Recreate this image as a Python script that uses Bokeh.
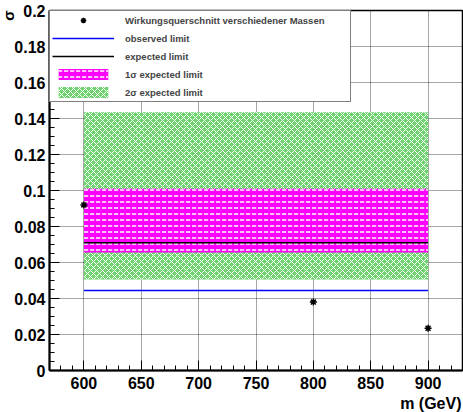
import numpy as np
from math import pi
from bokeh.plotting import figure
from bokeh.models import Legend, LegendItem, Label, FixedTicker
from bokeh.embed import file_html
from bokeh.resources import INLINE

# ---- data ----
masses = [600, 800, 900]
xsec = [0.092, 0.038, 0.0235]

limit_mass = [600, 900]
observed = [0.0445, 0.0445]
expected = [0.071, 0.071]
one_sigma_lo = [0.0656, 0.0656]
one_sigma_hi = [0.101, 0.101]
two_sigma_lo = [0.0505, 0.0505]
two_sigma_hi = [0.1435, 0.1435]

x_ticks = [600, 650, 700, 750, 800, 850, 900]
y_ticks = [0, 0.02, 0.04, 0.06, 0.08, 0.1, 0.12, 0.14, 0.16, 0.18, 0.2]
y_tick_labels = ["0", "0.02", "0.04", "0.06", "0.08", "0.1", "0.12", "0.14", "0.16", "0.18", "0.2"]

FONT = "Liberation Sans"

p = figure(width=463, height=412, x_range=(570, 930), y_range=(0, 0.2),
           output_backend="svg", toolbar_location=None,
           min_border_left=49, min_border_right=1, min_border_top=10, min_border_bottom=42)
p.background_fill_color = "white"
p.border_fill_color = "white"
p.outline_line_color = "black"
p.outline_line_width = 1.5

# bands
g2 = p.varea(x=limit_mass, y1=two_sigma_lo, y2=two_sigma_hi,
             fill_color="#6fd36f", hatch_pattern="diagonal_cross",
             hatch_color="white", hatch_scale=6, hatch_weight=1)
g1 = p.varea(x=limit_mass, y1=one_sigma_lo, y2=one_sigma_hi,
             fill_color="#ff00ff", hatch_pattern="horizontal_dash",
             hatch_color="white", hatch_scale=6, hatch_weight=1.5)
le = p.line(limit_mass, expected, line_color="black", line_width=1.5)
lo = p.line(limit_mass, observed, line_color="#0000ff", line_width=1.5)
pts = p.scatter(masses, xsec, marker="asterisk", size=7, line_width=1.5, color="black")

# axes
p.xaxis.ticker = FixedTicker(ticks=x_ticks, minor_ticks=list(np.arange(570, 931, 10)))
p.yaxis.ticker = FixedTicker(ticks=y_ticks, minor_ticks=list(np.round(np.arange(0, 0.2001, 0.005), 4)))
p.yaxis.major_label_overrides = {t: l for t, l in zip(y_ticks, y_tick_labels)}
for ax in (p.xaxis[0], p.yaxis[0]):
    ax.axis_line_color = "black"
    ax.axis_line_width = 2
    ax.major_tick_in = 10
    ax.major_tick_out = 0
    ax.minor_tick_in = 5
    ax.minor_tick_out = 0
    ax.major_tick_line_color = "black"
    ax.minor_tick_line_color = "black"
    ax.major_label_text_font = FONT
    ax.major_label_text_font_style = "bold"
    ax.major_label_text_font_size = "16px"
    ax.major_label_text_color = "black"
p.xaxis.major_label_standoff = 6
p.yaxis.major_label_standoff = 4

for g in (p.xgrid[0], p.ygrid[0]):
    g.grid_line_color = "black"
    g.grid_line_alpha = 0.7
    g.grid_line_dash = "1 1"
    g.grid_line_width = 1

# axis titles (placed in side panels so they are not clipped to the frame)
p.add_layout(Label(x=930, y=0, text="m (GeV)", text_align="right", text_baseline="top",
                   y_offset=-24, x_offset=-1, text_font=FONT, text_font_style="bold",
                   text_font_size="16px", text_color="black"), "below")
p.add_layout(Label(x=570, y=0.2, text="σ", angle=pi / 2, text_align="right",
                   text_baseline="alphabetic", x_offset=-41, text_font=FONT,
                   text_font_style="bold", text_font_size="15px", text_color="black"), "above")

legend = Legend(items=[
    LegendItem(label="Wirkungsquerschnitt verschiedener Massen", renderers=[pts]),
    LegendItem(label="observed limit", renderers=[lo]),
    LegendItem(label="expected limit", renderers=[le]),
    LegendItem(label="1σ expected limit", renderers=[g1]),
    LegendItem(label="2σ expected limit", renderers=[g2]),
], location="top_left", margin=0, padding=2, spacing=4, glyph_height=14,
    glyph_width=62, label_standoff=11, label_width=223, label_height=14,
    border_line_color="black", border_line_width=1, background_fill_alpha=1,
    label_text_font=FONT, label_text_font_style="bold", label_text_font_size="9.5px")
p.add_layout(legend)

open("out.html", "w").write(file_html(p, INLINE))
